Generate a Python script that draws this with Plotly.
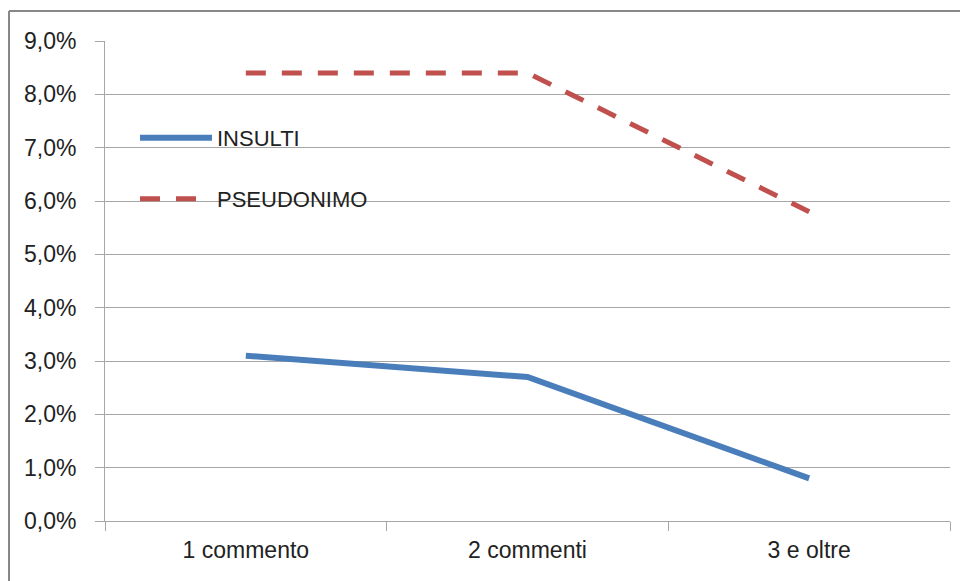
import plotly.graph_objects as go

categories = ["1 commento", "2 commenti", "3 e oltre"]
insulti = [3.1, 2.7, 0.8]
pseudonimo = [8.4, 8.4, 5.8]
y_ticks = [0, 1, 2, 3, 4, 5, 6, 7, 8, 9]
y_labels = [f"{v:.1f}%".replace(".", ",") for v in y_ticks]

W, H = 960, 581
L, R, T, B = 105, 10, 41, 60
pw, ph = W - L - R, H - T - B

def px_x(p):
    return (p - L) / pw

def px_y(p):
    return (H - B - p) / ph

font_family = "Liberation Sans, Arial, sans-serif"
grid = "#a6a6a6"
text_color = "#222222"
frame = "#878787"
fsize = 23

fig = go.Figure()
fig.add_trace(go.Scatter(
    x=categories, y=insulti, name="INSULTI", mode="lines",
    line=dict(color="#4a7ebb", width=6), legend="legend",
))
fig.add_trace(go.Scatter(
    x=categories, y=pseudonimo, name="PSEUDONIMO", mode="lines",
    line=dict(color="#c0504d", width=5, dash="20px,16px"), legend="legend2",
))

legend_common = dict(
    xanchor="left", yanchor="middle", bgcolor="rgba(0,0,0,0)",
    font=dict(family=font_family, size=fsize - 1, color=text_color),
    itemwidth=72, borderwidth=0,
)

# chart frame: top and left edges of the outer border
frame_lines = [
    dict(type="line", xref="paper", yref="paper",
         x0=px_x(9), x1=px_x(W + 5), y0=px_y(11), y1=px_y(11),
         line=dict(color=frame, width=2), layer="below"),
    dict(type="line", xref="paper", yref="paper",
         x0=px_x(9), x1=px_x(9), y0=px_y(11), y1=px_y(H + 5),
         line=dict(color=frame, width=2), layer="below"),
]

fig.update_layout(
    width=W, height=H,
    margin=dict(l=L, r=R, t=T, b=B, pad=0),
    paper_bgcolor="white", plot_bgcolor="white",
    font=dict(family=font_family, size=fsize, color=text_color),
    showlegend=True,
    legend=dict(x=px_x(135), y=px_y(138), **legend_common),
    legend2=dict(x=px_x(135), y=px_y(199), **legend_common),
    xaxis=dict(
        type="category", range=[-0.5, 2.5], tickson="boundaries",
        ticks="outside", ticklen=9, tickcolor=grid, tickwidth=1,
        showline=True, linecolor=grid, linewidth=1,
        showgrid=False, zeroline=False, ticklabelstandoff=8,
    ),
    yaxis=dict(
        range=[0, 9], tickvals=y_ticks, ticktext=y_labels,
        ticks="outside", ticklen=9, tickcolor=grid, tickwidth=1,
        showline=True, linecolor=grid, linewidth=1,
        showgrid=True, gridcolor=grid, gridwidth=1, zeroline=False,
        ticklabelstandoff=14,
    ),
    shapes=frame_lines,
)

fig.write_html("out.html")
